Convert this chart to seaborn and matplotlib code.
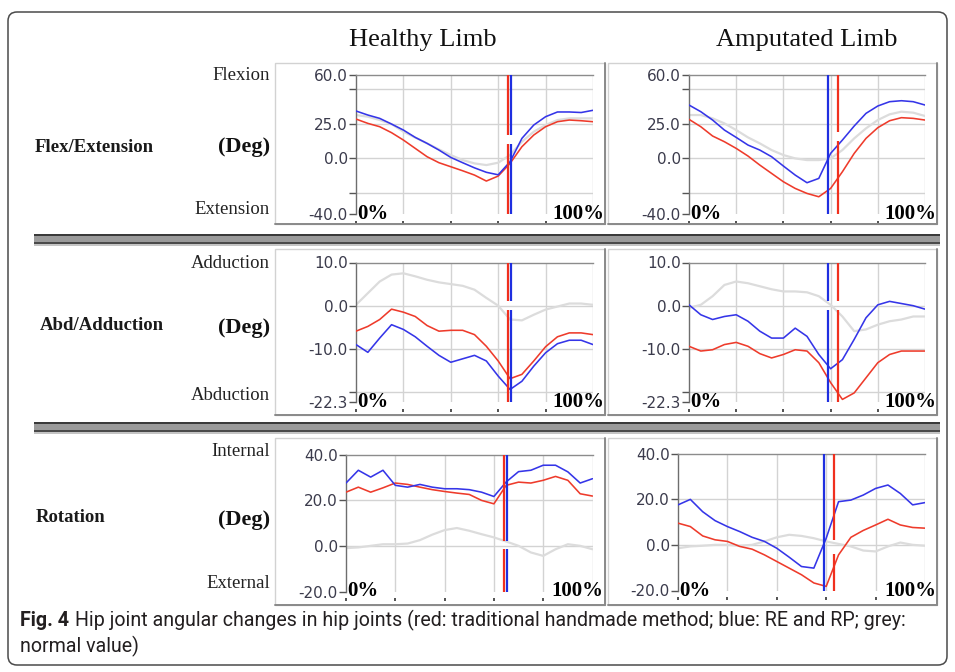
import matplotlib
matplotlib.use("Agg")
import matplotlib.pyplot as plt
import seaborn as sns
from matplotlib.patches import Rectangle, FancyBboxPatch
from matplotlib.transforms import IdentityTransform

# Percent of gait cycle
PCT = list(range(0, 101, 5))

# Flexion / extension (deg)
healthy_flex_normal = [31.2, 30.0, 27.6, 24.7, 19.2, 15.0, 10.8, 6.5, 2.4, -1.2, -3.6, -4.8, -3.1, 2.4, 12.0, 19.2, 24.0, 27.6, 28.8, 28.8, 28.8]
healthy_flex_trad = [28.3, 25.2, 22.8, 18.5, 13.2, 7.2, 1.2, -3.1, -6.0, -8.9, -12.0, -16.3, -12.7, -3.6, 8.4, 16.8, 22.8, 26.4, 27.6, 27.1, 26.4]
healthy_flex_rerp = [34.1, 31.2, 28.8, 24.7, 20.4, 15.1, 10.8, 6.0, 0.7, -3.1, -6.8, -10.0, -11.8, -2.4, 14.4, 24.0, 30.0, 33.4, 33.4, 33.0, 34.6]
amput_flex_normal = [31.2, 31.2, 28.8, 25.2, 20.4, 15.1, 10.8, 6.0, 2.4, 0.0, -1.2, -1.2, 0.0, 6.0, 14.4, 21.6, 27.6, 31.7, 33.6, 32.9, 30.5]
amput_flex_trad = [28.1, 22.8, 16.1, 12.0, 7.2, 1.7, -4.8, -10.8, -16.8, -21.6, -25.2, -27.6, -21.6, -9.6, 3.6, 14.4, 22.1, 27.1, 29.3, 28.8, 27.6]
amput_flex_rerp = [38.4, 33.6, 27.6, 20.4, 15.1, 9.6, 6.0, 1.2, -5.5, -12.0, -17.5, -14.4, 3.6, 13.2, 23.3, 32.4, 37.7, 40.8, 41.5, 40.8, 38.4]

# Abduction / adduction (deg)
healthy_abd_normal = [0.2, 2.9, 5.6, 7.2, 7.5, 6.8, 6.0, 5.4, 5.0, 4.6, 3.7, 1.8, 0.0, -3.2, -3.4, -2.1, -0.9, -0.2, 0.5, 0.5, 0.2]
healthy_abd_trad = [-5.9, -4.8, -3.2, -0.8, -1.5, -2.5, -4.6, -5.9, -5.7, -5.7, -6.7, -9.4, -12.8, -16.9, -15.9, -12.8, -9.5, -7.2, -6.3, -6.3, -6.7]
healthy_abd_rerp = [-9.0, -10.8, -7.5, -4.4, -5.5, -7.2, -9.4, -11.5, -13.1, -12.3, -11.5, -12.8, -16.3, -19.4, -17.5, -14.0, -10.9, -8.8, -8.0, -8.0, -9.0]
amput_abd_normal = [-0.5, 0.2, 2.2, 4.8, 5.6, 5.2, 4.5, 3.8, 3.3, 3.3, 3.1, 2.2, 0.2, -2.5, -5.9, -5.5, -4.4, -3.6, -3.2, -2.5, -2.5]
amput_abd_trad = [-9.4, -10.5, -10.2, -9.0, -8.5, -9.4, -11.1, -12.1, -11.3, -10.2, -10.5, -13.2, -17.8, -21.7, -20.2, -16.7, -13.2, -11.3, -10.5, -10.5, -10.5]
amput_abd_rerp = [0.2, -2.1, -3.2, -2.5, -2.1, -3.6, -5.9, -7.5, -7.5, -5.2, -7.1, -11.3, -14.6, -12.5, -7.8, -2.8, 0.2, 1.0, 0.5, 0.0, -0.8]

# Internal / external rotation (deg)
healthy_rot_normal = [-1.0, -0.7, 0.0, 0.7, 0.7, 1.0, 2.5, 4.9, 6.9, 7.8, 6.6, 5.1, 3.7, 1.9, 0.0, -2.9, -4.4, -1.5, 0.7, 0.0, -1.5]
healthy_rot_trad = [23.5, 25.7, 23.5, 25.4, 27.5, 26.9, 25.7, 24.6, 23.8, 23.1, 22.5, 19.9, 18.4, 26.5, 27.9, 27.5, 28.7, 30.4, 28.7, 22.8, 21.8]
healthy_rot_rerp = [27.5, 33.1, 30.1, 33.1, 26.5, 25.7, 26.9, 25.7, 25.0, 25.0, 24.6, 23.5, 21.6, 28.0, 32.5, 33.1, 35.3, 35.3, 32.4, 27.5, 29.4]
amput_rot_normal = [-1.5, -0.7, -0.4, 0.0, 0.0, -0.4, 0.0, 1.5, 3.3, 4.4, 3.9, 2.9, 1.5, 0.4, -0.7, -2.5, -2.9, -0.7, 1.0, 0.0, -0.4]
amput_rot_trad = [9.5, 8.0, 3.9, 2.2, 1.5, -0.7, -1.9, -4.4, -7.3, -10.2, -13.1, -16.7, -18.2, -4.4, 3.3, 6.3, 8.7, 11.2, 8.7, 7.6, 7.3]
amput_rot_rerp = [17.5, 19.9, 14.5, 10.6, 8.0, 5.8, 3.3, 1.5, -1.5, -5.4, -9.5, -10.2, 2.9, 18.9, 19.6, 21.8, 24.7, 26.2, 22.5, 17.5, 18.5]

# Toe-off events (% of gait cycle)
healthy_toeoff_trad = 64.0
healthy_toeoff_rerp = 65.3
amput_toeoff_trad = 63.3
amput_toeoff_rerp = 59.0

# Axis ranges and tick labels per row
row_names = ["Flex/Extension", "Abd/Adduction", "Rotation"]
row_top_words = ["Flexion", "Adduction", "Internal"]
row_bottom_words = ["Extension", "Abduction", "External"]
row_ylims = [(-40.0, 60.0), (-22.3, 10.0), (-20.0, 40.0)]
row_yticks = [[-40, -25, 0, 25, 50, 60], [-22.3, -20, -10, 0, 10], [-20, 0, 20, 40]]
row_yticklabels = [["-40.0", "", "0.0", "25.0", "", "60.0"],
                   ["-22.3", "", "-10.0", "0.0", "10.0"],
                   ["-20.0", "0.0", "20.0", "40.0"]]
col_titles = ["Healthy Limb", "Amputated Limb"]
caption_bold = "Fig. 4"
caption_line1 = "Hip joint angular changes in hip joints (red: traditional handmade method; blue: RE and RP; grey:"
caption_line2 = "normal value)"

# ---------------------------------------------------------------------------
W, H = 955, 672
sns.set_theme(style="white")
plt.rcParams["font.family"] = ["DejaVu Sans"]

fig = plt.figure(figsize=(W / 100, H / 100), dpi=100)
fig.patch.set_facecolor("white")
PX = IdentityTransform()


def fy(y):
    return H - y


def add_axes_px(left, right, top, bottom):
    return fig.add_axes([left / W, 1 - bottom / H, (right - left) / W, (bottom - top) / H])


SERIF = "Liberation Serif"
GREY = "#dcdcdc"
RED = "#ee3b2b"
BLUE = "#3535e8"
RED_MK = "#f0301e"
BLUE_MK = "#1f2fe0"

# layout boxes in pixels
axes_px = {
    (0, 0): (356, 593, 75, 214), (0, 1): (689, 925, 75, 214),
    (1, 0): (356, 593, 262.5, 402), (1, 1): (689, 925, 262.5, 402),
    (2, 0): (346, 592.5, 454.5, 591.5), (2, 1): (678, 925, 453.5, 590.5),
}
box_rows = [(63, 224), (249, 415), (438, 605)]
box_cols = [(275, 605), (608, 937)]

series = {
    (0, 0): (healthy_flex_normal, healthy_flex_trad, healthy_flex_rerp),
    (0, 1): (amput_flex_normal, amput_flex_trad, amput_flex_rerp),
    (1, 0): (healthy_abd_normal, healthy_abd_trad, healthy_abd_rerp),
    (1, 1): (amput_abd_normal, amput_abd_trad, amput_abd_rerp),
    (2, 0): (healthy_rot_normal, healthy_rot_trad, healthy_rot_rerp),
    (2, 1): (amput_rot_normal, amput_rot_trad, amput_rot_rerp),
}
# breaks in the event markers (deg): (trad, rerp)
marker_breaks = {
    (0, 0): ((10, 16.5), (10, 16.5)), (0, 1): ((12.7, 19.2), None),
    (1, 0): ((-1, 1), (-1, 1)), (1, 1): ((-1, 1), (-1, 1)),
    (2, 0): ((-1.5, 2.2), (-1.5, 2.2)), (2, 1): ((-3.9, 2.2), None),
}

# outer rounded frame
fig.add_artist(FancyBboxPatch((8, fy(665)), 939, 653, boxstyle="round,pad=0,rounding_size=9",
                              transform=PX, fill=False, edgecolor="#4a4a4a", lw=1.1))

# panel boxes
for (t, b) in box_rows:
    for (l, r) in box_cols:
        fig.add_artist(Rectangle((l, fy(b)), r - l, b - t, transform=PX, fill=False,
                                 edgecolor="#d2d2d2", lw=1.0))
        fig.add_artist(plt.Line2D([r, r], [fy(t), fy(b)], transform=PX, color="#8a8a8a", lw=1.4))
        fig.add_artist(plt.Line2D([l, r], [fy(b), fy(b)], transform=PX, color="#8a8a8a", lw=1.4))

# separator bars between rows
for y0 in (234, 422):
    fig.add_artist(Rectangle((34, fy(y0 + 12)), 906, 12, transform=PX, facecolor="#c4c4c4",
                             edgecolor="none"))
    fig.add_artist(Rectangle((34, fy(y0 + 2)), 906, 2, transform=PX, facecolor="#3a3a3a",
                             edgecolor="none"))
    fig.add_artist(Rectangle((34, fy(y0 + 7.5)), 906, 5.5, transform=PX, facecolor="#9a9a9a",
                             edgecolor="none"))
    fig.add_artist(Rectangle((34, fy(y0 + 9.5)), 906, 2, transform=PX, facecolor="#4a4a4a",
                             edgecolor="none"))

# column titles
fig.text(423, fy(40), col_titles[0], transform=PX, ha="center", va="center",
         family=SERIF, fontsize=19, color="#111111")
fig.text(807, fy(40), col_titles[1], transform=PX, ha="center", va="center",
         family=SERIF, fontsize=19, color="#111111")

# row labels
row_label_y = [(147, 76, 209, 147), (326, 263, 396, 328), (518, 452, 583, 520)]
row_label_x = [35, 40, 36]
for i in range(3):
    yc, ytop, ybot, ydeg = row_label_y[i]
    fig.text(row_label_x[i], fy(yc), row_names[i], transform=PX, ha="left", va="center",
             family=SERIF, fontsize=13.5, fontweight="bold", color="#1a1a1a")
    fig.text(270, fy(ytop), row_top_words[i], transform=PX, ha="right", va="center",
             family=SERIF, fontsize=13.5, color="#222222")
    fig.text(270, fy(ybot), row_bottom_words[i], transform=PX, ha="right", va="center",
             family=SERIF, fontsize=13.5, color="#222222")
    fig.text(270, fy(ydeg), "(Deg)", transform=PX, ha="right", va="center",
             family=SERIF, fontsize=16, fontweight="bold", color="#111111")

# plots
for (r, c), (l, rt, t, b) in axes_px.items():
    ax = add_axes_px(l, rt, t, b)
    ax.set_facecolor("white")
    ylo, yhi = row_ylims[r]
    normal, trad, rerp = series[(r, c)]

    for y in row_yticks[r]:
        if ylo < y < yhi:
            ax.axhline(y, color="#d3d3d3", lw=1.0, zorder=0)
    for x in (20, 40, 60, 80, 100):
        ax.axvline(x, color="#d3d3d3", lw=1.0, zorder=0)

    sns.lineplot(x=PCT, y=normal, ax=ax, color=GREY, linewidth=1.6, legend=False, zorder=2)
    sns.lineplot(x=PCT, y=trad, ax=ax, color=RED, linewidth=1.15, legend=False, zorder=3)
    sns.lineplot(x=PCT, y=rerp, ax=ax, color=BLUE, linewidth=1.15, legend=False, zorder=3)

    if c == 0:
        events = (healthy_toeoff_trad, healthy_toeoff_rerp)
    else:
        events = (amput_toeoff_trad, amput_toeoff_rerp)
    for xe, col, brk in zip(events, (RED_MK, BLUE_MK), marker_breaks[(r, c)]):
        if brk is None:
            ax.vlines(xe, ylo, yhi, color=col, lw=1.6, zorder=4)
        else:
            ax.vlines([xe, xe], [ylo, brk[1]], [brk[0], yhi], color=col, lw=1.6, zorder=4)

    ax.set_xlim(0, 100)
    ax.set_ylim(ylo, yhi)
    ax.set_xlabel("")
    ax.set_ylabel("")
    ax.set_xticks([0, 20, 40, 60, 80])
    ax.set_xticklabels([])
    ax.set_yticks(row_yticks[r])
    ax.set_yticklabels(row_yticklabels[r])
    ax.tick_params(axis="x", direction="out", length=2.5, width=1.2, color="#333333",
                   bottom=True, labelbottom=False)
    ax.tick_params(axis="y", direction="out", length=5, width=1.0, color="#555555", pad=1,
                   labelsize=11, labelcolor="#3b3b4c", left=True)
    ax.spines["right"].set_visible(False)
    ax.spines["bottom"].set_position(("outward", 5))
    ax.spines["bottom"].set_visible(False)
    ax.spines["left"].set_color("#6e6e6e")
    ax.spines["left"].set_linewidth(1.0)
    ax.spines["top"].set_color("#8c8c8c")
    ax.spines["top"].set_linewidth(1.0)

    ax.text(0.006, 0.0, "0%", transform=ax.transAxes, ha="left", va="center",
            family=SERIF, fontsize=15, fontweight="bold", color="#000000", zorder=6)
    ax.text(1 + 11 / (rt - l), 0.0, "100%", transform=ax.transAxes, ha="right", va="center",
            family=SERIF, fontsize=15, fontweight="bold", color="#000000", zorder=6,
            clip_on=False)

# caption, sized so that the first line runs to the right margin
cap_font = ["Roboto", "DejaVu Sans"]
renderer = fig.canvas.get_renderer()
cap_size = 13.0
t_bold = fig.text(20, fy(620), caption_bold, transform=PX, ha="left", va="center",
                  family=cap_font, fontsize=cap_size, fontweight="bold", color="#231f20")
t_line1 = fig.text(0, fy(620), caption_line1, transform=PX, ha="left", va="center",
                   family=cap_font, fontsize=cap_size, color="#231f20")
w_total = (t_bold.get_window_extent(renderer).width + 6
           + t_line1.get_window_extent(renderer).width)
cap_size = cap_size * (906 - 20) / w_total
t_bold.set_fontsize(cap_size)
t_line1.set_fontsize(cap_size)
bb = t_bold.get_window_extent(renderer)
t_line1.set_position((bb.x1 + 6, fy(620)))
fig.text(20, fy(646), caption_line2, transform=PX, ha="left", va="center",
         family=cap_font, fontsize=cap_size, color="#231f20")

fig.savefig("out.png", dpi=100, facecolor="white")
